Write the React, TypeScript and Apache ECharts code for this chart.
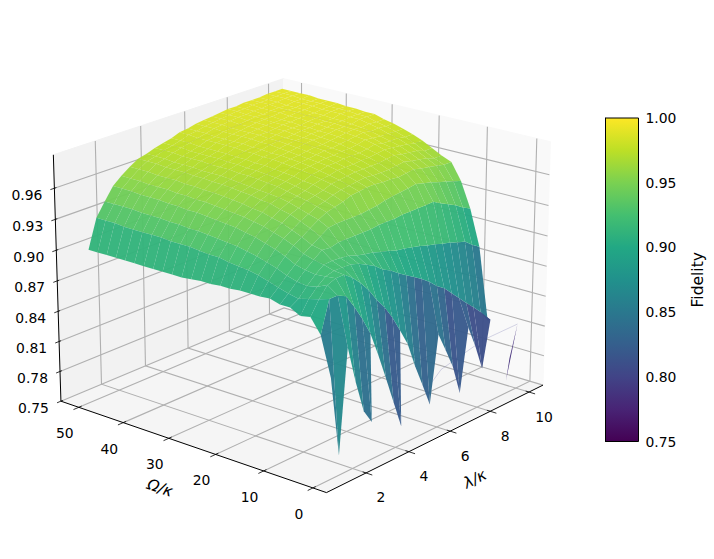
import React, { useEffect, useRef } from "react";
import * as echarts from "echarts";

const N = null;
const lambdaValues = [1,1.375,1.75,2.125,2.5,2.875,3.25,3.625,4,4.375,4.75,5.125,5.5,5.875,6.25,6.625,7,7.375,7.75,8.125,8.5,8.875,9.25,9.625,10];
const omegaValues = [0,2.04,4.08,6.12,8.16,10.2,12.24,14.28,16.32,18.36,20.4,22.44,24.48,26.52,28.56,30.6,32.64,34.68,36.72,38.76,40.8,42.84,44.88,46.92,48.96,51];

const row00 = [.846,.769,.8675,.831,.8,.786,N,N,N,N,N,N,N,N,N,N,N,N,N,N,N,N,N,.784,.815];
const row01 = [.883,.913,.913,.909,.896,.881,.864,.84,.814,.787,.76,N,N,N,N,N,N,N,N,N,N,N,N,N,.755];
const row02 = [.897,.91,.92,.923,.923,.917,.909,.899,.8865,.876,.863,.847,.8305,.805,.783,.76,.826,.807,.787,.757,.819,.797,.771,.817,N];
const row03 = [.895,.9075,.9156,.922,.924,.924,.9235,.921,.917,.9127,.906,.902,.896,.891,.886,.881,.875,.8676,.862,.854,.846,.8375,.83,.822,.81];
const row04 = [.9,.905,.9135,.921,.927,.9276,.927,.926,.923,.921,.9195,.917,.915,.912,.911,.909,.907,.9045,.9025,.9,.898,.895,.893,.8866,.8815];
const row05 = [.9,.907,.915,.9225,.929,.935,.934,.936,.936,.936,.936,.936,.937,.937,.937,.938,.938,.938,.938,.9385,.934,.93,.926,.921,.917];
const row06 = [.903,.91,.918,.925,.932,.937,.942,.947,.948,.948,.948,.948,.949,.95,.952,.953,.954,.955,.956,.954,.952,.949,.947,.944,.942];
const row07 = [.902,.913,.922,.93,.937,.942,.947,.952,.956,.958,.96,.963,.964,.965,.965,.964,.964,.963,.964,.965,.963,.9615,.96,.958,.958];
const row08 = [.902,.916,.925,.934,.941,.946,.951,.955,.959,.961,.964,.966,.967,.968,.969,.968,.968,.968,.969,.97,.968,.9665,.965,.962,.962];
const row09 = [.902,.918,.928,.937,.944,.95,.955,.958,.962,.964,.966,.969,.97,.971,.972,.972,.972,.972,.973,.974,.972,.971,.97,.967,.967];
const row10 = [.901,.919,.93,.94,.947,.952,.957,.961,.964,.966,.969,.971,.972,.974,.974,.974,.975,.975,.976,.977,.976,.975,.974,.972,.972];
const row11 = [.901,.92,.932,.942,.949,.955,.96,.963,.966,.968,.97,.973,.974,.976,.976,.977,.977,.977,.978,.98,.978,.9775,.9775,.976,.976];
const row12 = [.9,.922,.933,.944,.951,.956,.961,.964,.968,.97,.972,.975,.976,.977,.978,.978,.979,.979,.98,.982,.981,.98,.98,.979,.979];
const row13 = [.9,.922,.934,.945,.952,.958,.963,.965,.969,.971,.973,.976,.977,.978,.979,.98,.98,.981,.982,.983,.984,.9825,.983,.982,.982];
const row14 = [.899,.923,.935,.946,.953,.959,.964,.966,.97,.972,.974,.977,.978,.979,.98,.981,.981,.982,.983,.984,.985,.984,.985,.984,.984];
const row15 = [.898,.924,.936,.947,.954,.96,.965,.967,.971,.973,.975,.978,.979,.98,.981,.982,.983,.983,.984,.985,.985,.985,.987,.987,.987];
const row16 = [.898,.924,.936,.948,.955,.961,.966,.968,.971,.973,.975,.978,.979,.981,.982,.983,.983,.984,.984,.985,.986,.986,.987,.987,.987];
const row17 = [.898,.924,.937,.948,.955,.961,.966,.969,.972,.974,.976,.979,.98,.982,.983,.983,.984,.985,.985,.986,.986,.986,.988,.988,.988];
const row18 = [.898,.925,.937,.949,.956,.962,.967,.969,.972,.974,.976,.979,.98,.982,.983,.984,.985,.985,.985,.986,.987,.987,.988,.988,.988];
const row19 = [.898,.925,.938,.949,.956,.962,.967,.969,.972,.975,.977,.98,.981,.983,.984,.984,.985,.986,.986,.987,.987,.987,.988,.988,.989];
const row20 = [.898,.925,.938,.95,.957,.963,.968,.97,.973,.975,.977,.98,.981,.983,.984,.985,.986,.986,.986,.987,.988,.988,.989,.989,.989];
const row21 = [.898,.925,.938,.95,.957,.963,.968,.97,.973,.975,.977,.98,.981,.983,.984,.985,.986,.987,.987,.988,.988,.988,.989,.989,.989];
const row22 = [.898,.925,.939,.95,.957,.963,.968,.97,.973,.975,.977,.98,.981,.983,.984,.985,.986,.987,.987,.988,.988,.988,.989,.989,.99];
const row23 = [.898,.926,.939,.951,.958,.964,.969,.971,.974,.976,.978,.98,.982,.984,.985,.986,.987,.987,.988,.988,.989,.989,.99,.99,.99];
const row24 = [.898,.926,.939,.951,.958,.964,.969,.971,.974,.976,.978,.981,.982,.984,.985,.986,.987,.988,.988,.989,.989,.989,.99,.99,.99];
const row25 = [.898,.926,.939,.951,.958,.964,.969,.971,.974,.976,.978,.981,.982,.984,.985,.986,.987,.988,.988,.989,.989,.989,.99,.99,.99];
const fidelityRows = [row00,row01,row02,row03,row04,row05,row06,row07,row08,row09,row10,row11,row12,row13,row14,row15,row16,row17,row18,row19,row20,row21,row22,row23,row24,row25];

const faintTrace = [[10,0,.815],[9.25,4,.8],[8.125,8,.775],[7.375,8,.761]];

const lambdaTicks = [2,4,6,8,10];
const omegaTicks = [0,10,20,30,40,50];
const fidelityTicks = [0.75,0.78,0.81,0.84,0.87,0.9,0.93,0.96];
const viridisStops = ["#440154","#482475","#414487","#355f8d","#2a788e","#21918c","#22a884","#44bf70","#7ad151","#bddf26","#fde725"];

const L0 = 0.21, L1 = 10.74, O0 = -2.7, O1 = 54.1, Z0 = 0.75, Z1 = 0.992;
const FONT = "13.9px 'DejaVu Sans'";

const elev = (20 * Math.PI) / 180, azim = (-140 * Math.PI) / 180;
const ce = Math.cos(elev), se = Math.sin(elev), ca = Math.cos(azim), sa = Math.sin(azim);
const BOX = [1.1905, 1.1905, 0.8929];
const SCALE = 291.8, TX = 303.6, TY = 272.5;

function depthOf(l: number, o: number, z: number) {
  const dx = ((l - L0) / (L1 - L0) - 0.5) * BOX[0];
  const dy = ((o - O0) / (O1 - O0) - 0.5) * BOX[1];
  const dz = ((z - Z0) / (Z1 - Z0) - 0.5) * BOX[2];
  return { dx, dy, dz, zc: ce * ca * dx + ce * sa * dy + se * dz };
}
function project(l: number, o: number, z: number): [number, number] {
  const { dx, dy, dz, zc } = depthOf(l, o, z);
  const xc = -sa * dx + ca * dy;
  const yc = -se * ca * dx - se * sa * dy + ce * dz;
  const f = 1 / (1 - zc / 10);
  return [TX + SCALE * xc * f, TY - SCALE * yc * f];
}
function viridis(t: number) {
  const v = Math.max(0, Math.min(1, t)) * (viridisStops.length - 1);
  const k = Math.min(Math.floor(v), viridisStops.length - 2);
  const u = v - k;
  const a = viridisStops[k], b = viridisStops[k + 1];
  const ch = (s: string, p: number) => parseInt(s.slice(p, p + 2), 16);
  const m = (p: number) => Math.round(ch(a, p) + (ch(b, p) - ch(a, p)) * u);
  return `rgb(${m(1)},${m(3)},${m(5)})`;
}

type Cell = { points: [number, number][]; color: string; depth: number };
const cells: Cell[] = [];
for (let j = 0; j + 1 < omegaValues.length; j++) {
  for (let i = 0; i + 1 < lambdaValues.length; i++) {
    const corners = [[i, j], [i + 1, j], [i + 1, j + 1], [i, j + 1]]
      .filter(([a, b]) => fidelityRows[b][a] !== null)
      .map(([a, b]) => [lambdaValues[a], omegaValues[b], fidelityRows[b][a] as number]);
    if (corners.length < 3) continue;
    const mean = corners.reduce((s, c) => s + c[2], 0) / corners.length;
    const depth = corners.reduce((s, c) => s + depthOf(c[0], c[1], c[2]).zc, 0) / corners.length;
    cells.push({
      points: corners.map((c) => project(c[0], c[1], c[2])),
      color: viridis((mean - 0.75) / 0.25),
      depth,
    });
  }
}
cells.sort((a, b) => a.depth - b.depth);

const pane = (pts: number[][], fill: string) => ({
  type: "polygon", silent: true,
  shape: { points: pts.map((p) => project(p[0], p[1], p[2])) },
  style: { fill, stroke: fill, lineWidth: 1 },
});
const line = (pts: number[][], stroke: string, lineWidth: number, opacity = 1) => ({
  type: "polyline", silent: true,
  shape: { points: pts.map((p) => project(p[0], p[1], p[2])) },
  style: { stroke, lineWidth, fill: null, opacity },
});
const label = (text: string, at: [number, number], dx: number, dy: number) => ({
  type: "text", silent: true, x: at[0] + dx, y: at[1] + dy,
  style: { text, font: FONT, fill: "#000", align: "center", verticalAlign: "middle" },
});

function frameElements() {
  const GRID = "#b0b0b0";
  const els: any[] = [
    pane([[L0,O1,Z0],[L1,O1,Z0],[L1,O1,Z1],[L0,O1,Z1]], "#f2f2f2"),
    pane([[L1,O0,Z0],[L1,O1,Z0],[L1,O1,Z1],[L1,O0,Z1]], "#f9f9f9"),
    pane([[L0,O0,Z0],[L1,O0,Z0],[L1,O1,Z0],[L0,O1,Z0]], "#f5f5f5"),
  ];
  const dl = L1 - L0, dO = O1 - O0;
  omegaTicks.forEach((o) => {
    els.push(line([[L0,o,Z0],[L1,o,Z0],[L1,o,Z1]], GRID, 1.1));
    els.push(line([[L0 - 0.022 * dl,o,Z0],[L0 + 0.012 * dl,o,Z0]], "#000", 0.8));
    els.push(label(String(o), project(L0,o,Z0), -14, 26));
  });
  lambdaTicks.forEach((l) => {
    els.push(line([[l,O0,Z0],[l,O1,Z0],[l,O1,Z1]], GRID, 1.1));
    els.push(line([[l,O0 - 0.022 * dO,Z0],[l,O0 + 0.012 * dO,Z0]], "#000", 0.8));
    els.push(label(String(l), project(l,O0,Z0), 15, 24.5));
  });
  fidelityTicks.forEach((z) => {
    els.push(line([[L0,O1,z],[L1,O1,z],[L1,O0,z]], GRID, 1.1));
    els.push(line([[L0 - 0.016 * dl,O1,z],[L0 + 0.008 * dl,O1,z]], "#000", 0.8));
    els.push(label(z.toFixed(2), project(L0,O1,z), -27.5, 6.5));
  });
  els.push(line([[L0,O1,Z0],[L0,O0,Z0],[L1,O0,Z0]], "#000", 1));
  els.push(line([[L0,O1,Z0],[L0,O1,Z1]], "#000", 1));
  els.push(line(faintTrace, "#5a5aa0", 0.7, 0.35));
  els.push({ type: "text", silent: true, x: 160, y: 488, rotation: -0.33,
    style: { text: "Ω/κ", font: "italic 15.5px 'DejaVu Sans'", fill: "#000", align: "center", verticalAlign: "middle" } });
  els.push({ type: "text", silent: true, x: 475, y: 479, rotation: 0.46,
    style: { text: "λ/κ", font: "italic 15.5px 'DejaVu Sans'", fill: "#000", align: "center", verticalAlign: "middle" } });
  return els;
}

export default function App() {
  const ref = useRef<HTMLDivElement>(null);
  useEffect(() => {
    document.body.style.margin = "0";
    const chart = echarts.init(ref.current!, undefined, { renderer: "svg" });
    const gradient = new echarts.graphic.LinearGradient(0, 0, 0, 1,
      viridisStops.map((color, k) => ({ offset: 1 - k / (viridisStops.length - 1), color })).reverse());
    chart.setOption({
      animation: false,
      backgroundColor: "#fff",
      graphic: { elements: frameElements() },
      grid: { left: 605.5, top: 118, width: 33, height: 323.5, containLabel: false },
      xAxis: { type: "value", min: 0, max: 1, show: false },
      yAxis: {
        type: "value", position: "right", min: 0.75, max: 1, interval: 0.05,
        axisLine: { show: true, lineStyle: { color: "#000", width: 1 } },
        axisTick: { show: true, length: 4, lineStyle: { color: "#000", width: 0.8 } },
        splitLine: { show: false },
        axisLabel: { fontFamily: "DejaVu Sans", fontSize: 13.9, color: "#000", margin: 7, formatter: (v: number) => v.toFixed(2) },
        name: "Fidelity", nameLocation: "middle", nameRotate: 90, nameGap: 51,
        nameTextStyle: { fontFamily: "DejaVu Sans", fontSize: 15.5, color: "#000" },
      },
      series: [
        {
          type: "custom", coordinateSystem: "none", silent: true, z: 3,
          data: cells.map((_, k) => k),
          renderItem: (params: any) => {
            const c = cells[params.dataIndex];
            return { type: "polygon", silent: true, shape: { points: c.points }, style: { fill: c.color, opacity: 0.96 } };
          },
        },
        {
          type: "custom", coordinateSystem: "cartesian2d", silent: true, z: 4,
          data: [[0, 0.75, 1, 1]],
          encode: { x: [0, 2], y: [1, 3] },
          renderItem: (_: any, api: any) => {
            const a = api.coord([0, 1]);
            const b = api.coord([1, 0.75]);
            return { type: "rect", silent: true, shape: { x: a[0], y: a[1], width: b[0] - a[0], height: b[1] - a[1] },
              style: { fill: gradient, stroke: "#000", lineWidth: 1 } };
          },
        },
      ],
    });
    return () => chart.dispose();
  }, []);
  return <div ref={ref} style={{ width: 714, height: 559 }} />;
}
